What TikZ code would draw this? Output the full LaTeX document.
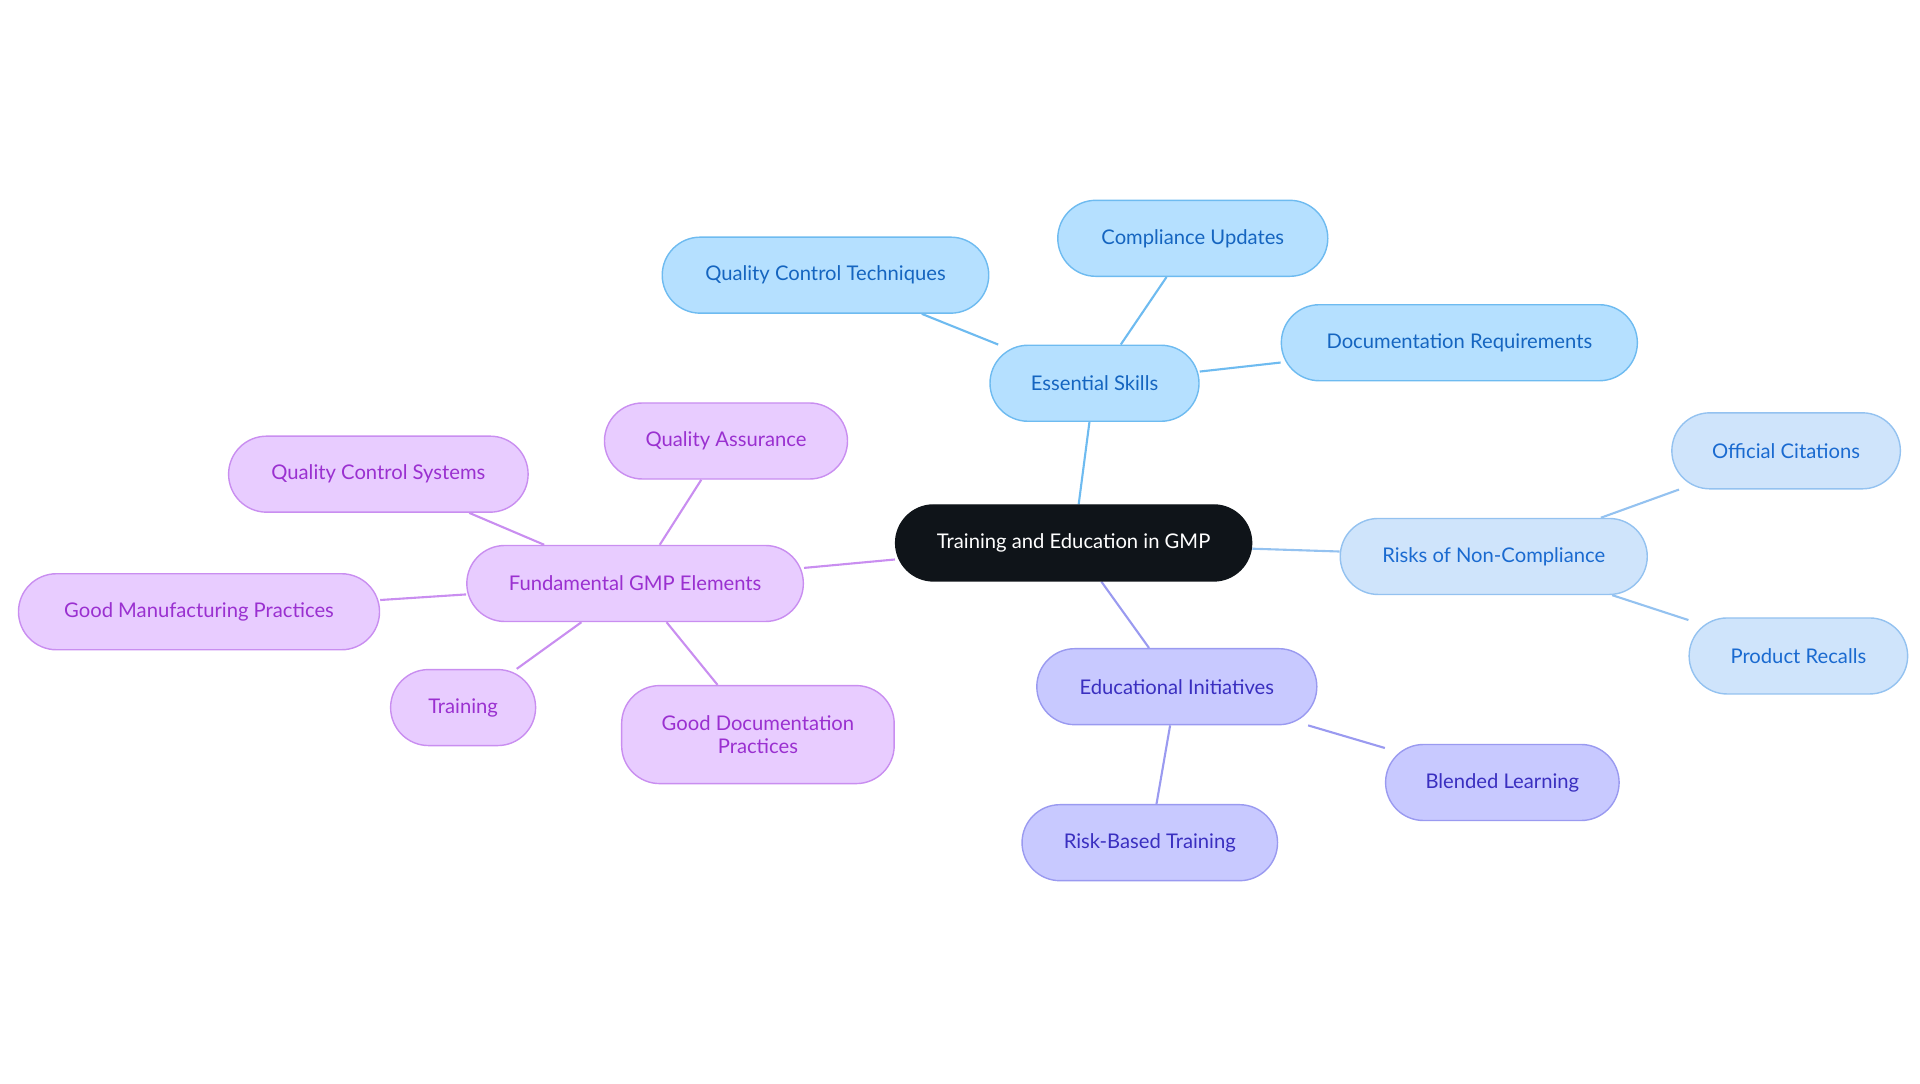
\documentclass[tikz,border=0pt]{standalone}
\usepackage{fontspec}
\setmainfont{Lato}
\usetikzlibrary{backgrounds}
\definecolor{rootc}{HTML}{0F1419}
\definecolor{blf}{HTML}{B5E0FF}\definecolor{bld}{HTML}{6EBBF0}\definecolor{blt}{HTML}{1565C0}
\definecolor{lbf}{HTML}{CFE4FB}\definecolor{lbd}{HTML}{94C2F0}\definecolor{lbt}{HTML}{1A6AD0}
\definecolor{inf}{HTML}{C8C9FF}\definecolor{ind}{HTML}{9A9AF0}\definecolor{intt}{HTML}{3A2FC0}
\definecolor{puf}{HTML}{E8CCFF}\definecolor{pud}{HTML}{C98EF0}\definecolor{put}{HTML}{9A30D0}
\begin{document}
\begin{tikzpicture}[x=0.02456cm, y=-0.02456cm,
    box/.style = {shape = rectangle, rounded corners = 0.76cm, minimum height = 1.52cm, inner sep = 0.1cm, font = \fontsize{11.5}{13}\selectfont, align = center, line width = 0.8pt},
    rootbox/.style = {box, fill = rootc, draw = rootc, text = white},
    skill/.style = {box, fill = blf, draw = bld, text = blt},
    risk/.style = {box, fill = lbf, draw = lbd, text = lbt},
    edu/.style = {box, fill = inf, draw = ind, text = intt},
    gmp/.style = {box, fill = puf, draw = pud, text = put},
    link/.style = {line width = 1.2pt},
    ]
    \useasboundingbox (0, 0) rectangle (1563, 882);
    \node[rootbox, minimum width = 7.12cm] (R) at (874, 442) {Training and Education in GMP};

    \node[skill, minimum width = 4.18cm] (S) at (891, 312) {Essential Skills};
    \node[skill, minimum width = 6.53cm] (S1) at (672, 224) {Quality Control Techniques};
    \node[skill, minimum width = 5.40cm] (S2) at (971, 194) {Compliance Updates};
    \node[skill, minimum width = 7.12cm] (S3) at (1188, 279) {Documentation Requirements};

    \node[risk, minimum width = 6.14cm] (N) at (1216, 453) {Risks of Non-Compliance};
    \node[risk, minimum width = 4.57cm] (N1) at (1454, 367) {Official Citations};
    \node[risk, minimum width = 4.37cm] (N2) at (1464, 534) {Product Recalls};

    \node[edu, minimum width = 5.60cm] (E) at (958, 559) {Educational Initiatives};
    \node[edu, minimum width = 4.67cm] (E1) at (1223, 637) {Blended Learning};
    \node[edu, minimum width = 5.11cm] (E2) at (936, 686) {Risk-Based Training};

    \node[gmp, minimum width = 6.73cm] (G) at (517, 475) {Fundamental GMP Elements};
    \node[gmp, minimum width = 4.86cm] (G1) at (591, 359) {Quality Assurance};
    \node[gmp, minimum width = 5.99cm] (G2) at (308, 386) {Quality Control Systems};
    \node[gmp, minimum width = 7.22cm] (G3) at (162, 498) {Good Manufacturing Practices};
    \node[gmp, minimum width = 2.90cm] (G4) at (377, 576) {Training};
    \node[gmp, minimum width = 5.45cm, minimum height = 1.96cm] (G5) at (617, 598) {Good Documentation\\Practices};

    \begin{scope}[on background layer]
        \draw[link, bld] (R) -- (S);
        \foreach \n in {S1, S2, S3} \draw[link, bld] (S) -- (\n);
        \draw[link, lbd] (R) -- (N);
        \foreach \n in {N1, N2} \draw[link, lbd] (N) -- (\n);
        \draw[link, ind] (R) -- (E);
        \foreach \n in {E1, E2} \draw[link, ind] (E) -- (\n);
        \draw[link, pud] (R) -- (G);
        \foreach \n in {G1, G2, G3, G4, G5} \draw[link, pud] (G) -- (\n);
    \end{scope}
\end{tikzpicture}
\end{document}
